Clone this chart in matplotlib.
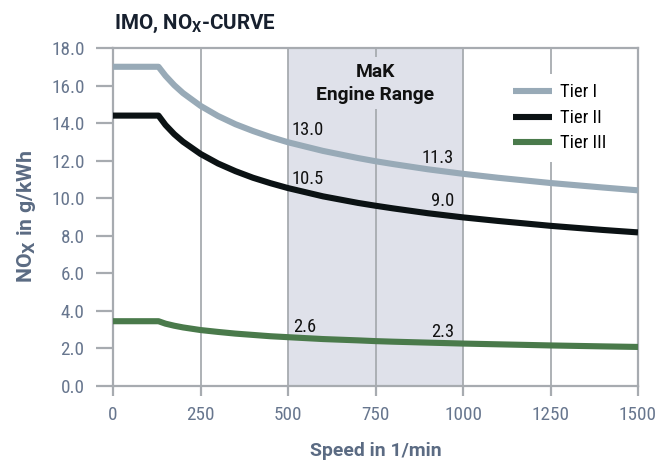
import matplotlib
matplotlib.use("Agg")
import matplotlib.pyplot as plt
from matplotlib.font_manager import FontProperties
from matplotlib.textpath import TextPath

FONTS = ['Roboto Condensed', 'Roboto']
plt.rcParams['font.family'] = ['Roboto Condensed', 'DejaVu Sans']
plt.rcParams['mathtext.default'] = 'regular'

# ---- data ----
speed = [0, 130, 150, 175, 200, 250, 300, 350, 400, 450, 500, 600, 700, 750,
         800, 900, 1000, 1100, 1250, 1400, 1500]
tier1 = [17.0, 17.0, 16.52, 16.02, 15.60, 14.92, 14.38, 13.94, 13.58, 13.26, 12.98,
         12.52, 12.14, 11.97, 11.82, 11.54, 11.30, 11.09, 10.81, 10.57, 10.42]
tier2 = [14.4, 14.4, 13.90, 13.41, 13.01, 12.36, 11.85, 11.44, 11.09, 10.80, 10.54,
         10.10, 9.75, 9.60, 9.46, 9.20, 8.98, 8.79, 8.53, 8.31, 8.18]
tier3 = [3.45, 3.45, 3.32, 3.21, 3.12, 2.98, 2.88, 2.79, 2.72, 2.65, 2.60,
         2.50, 2.43, 2.39, 2.36, 2.31, 2.26, 2.22, 2.16, 2.11, 2.08]
series_names = ['Tier I', 'Tier II', 'Tier III']
engine_range = (500, 1000)
xticks = [0, 250, 500, 750, 1000, 1250, 1500]
yticks = [0, 2, 4, 6, 8, 10, 12, 14, 16, 18]
annotations = [  # (x, y of text centre, text, ha)
    (511, 13.72, '13.0', 'left'),
    (974, 12.20, '11.3', 'right'),
    (511, 11.12, '10.5', 'left'),
    (974, 9.92, '9.0', 'right'),
    (516, 3.25, '2.6', 'left'),
    (976, 2.98, '2.3', 'right'),
]

c1, c2, c3 = '#98aab7', '#0b1214', '#4a7a4b'
grid_c = '#a7abb0'
tick_c = '#67768e'
label_c = '#5b6b83'
shade_c = '#dfe1ea'
DPI = 100
W, H = 672, 461

fig = plt.figure(figsize=(W / DPI, H / DPI), dpi=DPI)
renderer = fig.canvas.get_renderer()


def cap_px(family, weight, size):
    fp = FontProperties(family=family, weight=weight)
    return TextPath((0, 0), 'H', size=size, prop=fp).get_extents().height * DPI / 72


def fit(s, target_w, target_cap, weight='normal', fonts=FONTS):
    best = None
    for fam in fonts:
        t = fig.text(0, 0, s, fontsize=10, family=[fam, 'DejaVu Sans'], fontweight=weight)
        w = t.get_window_extent(renderer).width
        t.remove()
        size = 10 * target_w / w
        err = abs(cap_px(fam, weight, size) - target_cap)
        if best is None or err < best[0]:
            best = (err, fam, size)
    return best[1], best[2]


AX_L, AX_T, AX_W, AX_H = 113, 48, 525, 338
ax = fig.add_axes([AX_L / W, (H - AX_T - AX_H) / H, AX_W / W, AX_H / H])
ax.set_xlim(0, 1500)
ax.set_ylim(0, 18)


def px2ax(py):
    return (AX_T + AX_H - py) / AX_H


ax.axvspan(*engine_range, color=shade_c, zorder=0, lw=0)
for xv in xticks[1:]:
    ax.axvline(xv, color=grid_c, lw=1.3, zorder=1)

lw = 4.4
ax.plot(speed, tier1, color=c1, lw=lw, label=series_names[0], zorder=3, solid_capstyle='butt')
ax.plot(speed, tier2, color=c2, lw=lw, label=series_names[1], zorder=3, solid_capstyle='butt')
ax.plot(speed, tier3, color=c3, lw=lw, label=series_names[2], zorder=3, solid_capstyle='butt')

for s in ax.spines.values():
    s.set_color(grid_c)
    s.set_linewidth(1.6)

# tick labels
tfam, tsize = fit('18.0', 33, 14)
ax.set_xticks(xticks)
ax.set_yticks(yticks)
ax.set_yticklabels([f'{v:.1f}' for v in yticks])
ax.tick_params(axis='y', length=12.2, width=1.6, color=grid_c, labelcolor=tick_c,
               labelsize=tsize, pad=8.3)
ax.tick_params(axis='x', length=7.2, width=1.6, color=grid_c, labelcolor=tick_c,
               labelsize=tsize, pad=7.5)
for lab in ax.get_xticklabels() + ax.get_yticklabels():
    lab.set_family([tfam, 'DejaVu Sans'])

# value annotations
afam, asize = fit('13.0', 32, 13.3)
acap_pt = cap_px(afam, 'normal', asize) * 72 / DPI
for x, y, t, ha in annotations:
    ax.annotate(t, (x, y), xytext=(0, -acap_pt / 2), textcoords='offset points',
                ha=ha, va='baseline', fontsize=asize, family=[afam, 'DejaVu Sans'],
                color='#111111', zorder=4)

# engine range label
mfam, msize = fit('Engine Range', 119, 13.3, weight='bold')
mcap = cap_px(mfam, 'bold', msize)
xmid = 0.5 * (engine_range[0] + engine_range[1])
for txt, cy in (('MaK', 70), ('Engine Range', 93)):
    ax.text(xmid, px2ax(cy + mcap / 2), txt, transform=ax.get_xaxis_transform(),
            ha='center', va='baseline', fontsize=msize, family=[mfam, 'DejaVu Sans'],
            fontweight='bold', color='#111111', zorder=4,
            bbox=dict(facecolor=shade_c, edgecolor='none', pad=4))

# legend
lfam, lsize = afam, asize
fpx = lsize * DPI / 72
lprop = FontProperties(family=[lfam, 'DejaVu Sans'], size=lsize)


def make_legend(anchor, spacing):
    lg = ax.legend(loc='upper left', bbox_to_anchor=anchor, frameon=True, prop=lprop,
                   handlelength=39 / fpx, handletextpad=8 / fpx,
                   labelspacing=spacing, borderpad=0.5)
    lg.get_frame().set_facecolor('white')
    lg.get_frame().set_edgecolor('none')
    lg.get_frame().set_alpha(1)
    lg.set_zorder(5)
    for ln in lg.legend_handles:
        ln.set_linewidth(4.4)
    return lg


anchor = (0.745, 0.935)
leg = make_legend(anchor, 0.3)
fig.canvas.draw()
th = leg.get_texts()[0].get_window_extent(renderer).height
spacing = max(0.0, (25.5 - th) / fpx)
leg.remove()
leg = make_legend(anchor, spacing)
fig.canvas.draw()
hb = leg.legend_handles[0].get_window_extent(renderer)
dx = 513 - hb.x0
dy = (H - 91) - 0.5 * (hb.y0 + hb.y1)
anchor = (anchor[0] + dx / AX_W, anchor[1] + dy / AX_H)
leg.remove()
leg = make_legend(anchor, spacing)

# axis labels
xfam, xsize = fit('Speed in 1/min', 132, 13.5, weight='bold')
ax.set_xlabel('Speed in 1/min', fontsize=xsize, fontweight='bold', family=[xfam, 'DejaVu Sans'],
              color=label_c, va='baseline')
ax.xaxis.set_label_coords((376 - AX_L) / AX_W, px2ax(456))

plt.rcParams['mathtext.fontset'] = 'custom'
yfam, ysize = fit('NO in g/kWh', 120, 13, weight='bold')
plt.rcParams['mathtext.rm'] = yfam
plt.rcParams['mathtext.bf'] = yfam + ':bold'
ax.set_ylabel(r'NO$_\mathbf{X}$ in g/kWh', fontsize=ysize, fontweight='bold',
              family=[yfam, 'DejaVu Sans'], color=label_c, va='center')
ax.yaxis.set_label_coords((26 - AX_L) / AX_W, px2ax(216.5))

ttfam, ttsize = fit('IMO, NO-CURVE', 150, 13, weight='bold')
fig.text(114 / W, 1 - 29 / H, r'IMO, NO$_\mathbf{X}$-CURVE', ha='left', va='baseline',
         fontsize=ttsize, fontweight='bold', family=[ttfam, 'DejaVu Sans'], color='#17202e')

fig.savefig('out.png', dpi=DPI)
